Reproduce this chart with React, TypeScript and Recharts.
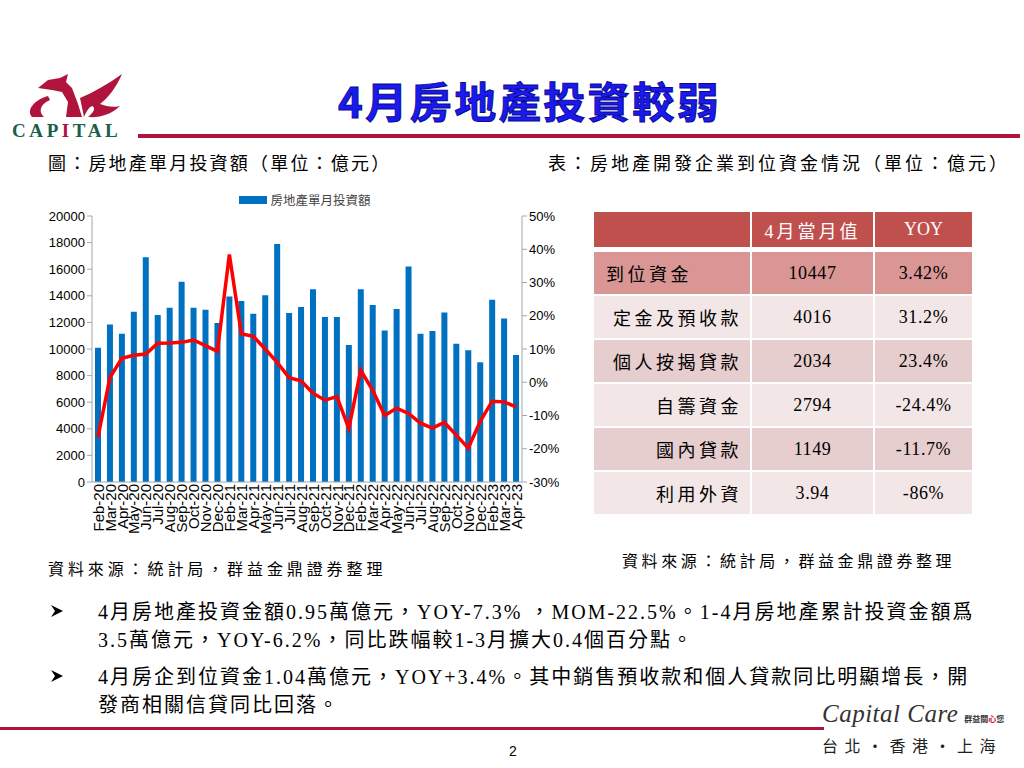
import React from 'react';
import { ComposedChart, Bar, Line, XAxis, YAxis, Legend } from 'recharts';

const months = [
  'Feb-20', 'Mar-20', 'Apr-20', 'May-20', 'Jun-20', 'Jul-20', 'Aug-20', 'Sep-20', 'Oct-20', 'Nov-20', 'Dec-20',
  'Feb-21', 'Mar-21', 'Apr-21', 'May-21', 'Jun-21', 'Jul-21', 'Aug-21', 'Sep-21', 'Oct-21', 'Nov-21', 'Dec-21',
  'Feb-22', 'Mar-22', 'Apr-22', 'May-22', 'Jun-22', 'Jul-22', 'Aug-22', 'Sep-22', 'Oct-22', 'Nov-22', 'Dec-22',
  'Feb-23', 'Mar-23', 'Apr-23',
];

// 房地產單月投資額 (億元)
const investment = [
  10100, 11850, 11150, 12800, 16900, 12550, 13100, 15050, 13100, 12950, 11950,
  13950, 13600, 12650, 14050, 17900, 12700, 13150, 14500, 12400, 12400, 10300,
  14500, 13300, 11400, 13000, 16200, 11150, 11350, 12750, 10400, 9900, 9000,
  13700, 12300, 9550,
];

// 同比 (%)
const yoy = [
  -16.5, 1.4, 7.2, 8.1, 8.5, 11.7, 11.8, 12.0, 12.7, 11.0, 9.3,
  38.4, 14.6, 13.8, 10.0, 6.0, 1.4, 0.4, -3.3, -5.4, -4.3, -13.9,
  3.6, -2.4, -10.0, -7.8, -9.4, -12.3, -13.8, -12.1, -15.9, -19.8, -11.8,
  -5.7, -5.9, -7.4,
];

const leftTicks = [0, 2000, 4000, 6000, 8000, 10000, 12000, 14000, 16000, 18000, 20000];
const rightTicks = [-30, -20, -10, 0, 10, 20, 30, 40, 50];

const tableHeader = ['', '4月當月值', 'YOY'];
const tableLabels = ['到位資金', '定金及預收款', '個人按揭貸款', '自籌資金', '國內貸款', '利用外資'];
const tableValues = ['10447', '4016', '2034', '2794', '1149', '3.94'];
const tableYoy = ['3.42%', '31.2%', '23.4%', '-24.4%', '-11.7%', '-86%'];

const bulletLines = [
  ['4月房地產投資金額0.95萬億元，YOY-7.3% ，MOM-22.5%。1-4月房地產累計投資金額爲', '3.5萬億元，YOY-6.2%，同比跌幅較1-3月擴大0.4個百分點。'],
  ['4月房企到位資金1.04萬億元，YOY+3.4%。其中銷售預收款和個人貸款同比明顯增長，開', '發商相關信貸同比回落。'],
];

const chartData = months.map((m, i) => ({ month: m, amount: investment[i], yoy: yoy[i] }));

const CJK = '"Liberation Serif", "Noto Sans CJK TC", serif';
const SANS = '"Liberation Sans", Arial, sans-serif';
const RED = '#B0143C';

const Text: React.FC<{ x: number; y: number; size: number; spacing?: number; color?: string; family?: string; weight?: number; children: React.ReactNode }> = ({ x, y, size, spacing = 0, color = '#000', family = CJK, weight = 400, children }) => (
  <div
    style={{
      position: 'absolute',
      left: x,
      top: y - size * 0.7,
      fontSize: size,
      lineHeight: `${size * 1.4}px`,
      letterSpacing: spacing,
      color,
      fontFamily: family,
      fontWeight: weight,
      whiteSpace: 'nowrap',
    }}
  >
    {children}
  </div>
);

const LegendContent = () => (
  <div style={{ display: 'flex', alignItems: 'center', justifyContent: 'center', fontFamily: '"Noto Sans CJK TC", sans-serif', fontSize: 12.5, color: '#444' }}>
    <span style={{ display: 'inline-block', width: 28, height: 8, background: '#0070C0', marginRight: 3 }} />
    房地產單月投資額
  </div>
);

const Logo = () => (
  <svg width={130} height={70} style={{ position: 'absolute', left: 8, top: 70 }}>
    {/* bird head and body */}
    <path d="M30 18 L40 10 L52 8 L60 4 L58 12 L64 18 L70 34 L74 47 L58 47 L60 32 L54 22 L44 20 Z" fill="#B0143C" />
    {/* left curl */}
    <path d="M40 26 C26 30 18 40 24 47 L36 47 C30 42 32 34 42 30 Z" fill="#B0143C" />
    {/* wing */}
    <path d="M72 28 C86 22 100 14 114 4 C108 18 100 28 92 34 C98 36 104 38 112 36 C104 44 92 48 80 47 C86 42 88 38 84 36 C80 38 78 42 76 47 Z" fill="#B0143C" />
    <text x={4} y={67} fontFamily="Liberation Serif" fontWeight={700} fontSize={19} letterSpacing={3.6} fill="#1B5E4B">
      CAP<tspan fill="#B0143C">I</tspan>TAL
    </text>
  </svg>
);

const Arrow: React.FC<{ x: number; y: number }> = ({ x, y }) => (
  <svg width={14} height={14} style={{ position: 'absolute', left: x, top: y - 7 }}>
    <path d="M1 1 L13 7 L1 13 L5 7 Z" fill="#000" />
  </svg>
);

export default function App() {
  return (
    <div style={{ position: 'absolute', left: 0, top: 0, width: 1024, height: 768, background: '#fff', overflow: 'hidden' }}>
      <Logo />
      <div
        style={{
          position: 'absolute',
          left: 338,
          top: 74,
          fontSize: 42,
          lineHeight: '52px',
          letterSpacing: 2.5,
          color: '#1A1AF0',
          fontFamily: '"Noto Sans CJK TC", sans-serif',
          fontWeight: 700,
          WebkitTextStroke: '1px #0A0A90',
          whiteSpace: 'nowrap',
        }}
      >
        4月房地產投資較弱
      </div>
      <div style={{ position: 'absolute', left: 138, top: 134, width: 882, height: 4, background: RED }} />

      <Text x={48} y={165} size={18} spacing={2.2}>圖：房地產單月投資額（單位：億元）</Text>
      <Text x={548} y={165} size={18} spacing={3}>表：房地產開發企業到位資金情況（單位：億元）</Text>

      <div style={{ position: 'absolute', left: 40, top: 190 }}>
        <ComposedChart width={530} height={350} data={chartData} margin={{ top: 0, right: 0, bottom: 0, left: 0 }}>
          <Legend verticalAlign="top" height={26} content={LegendContent} />
          <XAxis
            dataKey="month"
            interval={0}
            angle={-90}
            textAnchor="end"
            height={58}
            tickLine={false}
            axisLine={{ stroke: '#A6A6A6' }}
            tick={{ fontSize: 15, fill: '#000', fontFamily: SANS, dx: -5, dy: -6 }}
          />
          <YAxis
            yAxisId="left"
            domain={[0, 20000]}
            ticks={leftTicks}
            width={52}
            interval={0}
            axisLine={{ stroke: '#A6A6A6' }}
            tickLine={{ stroke: '#A6A6A6' }}
            tickSize={5}
            tick={{ fontSize: 13, fill: '#000', fontFamily: SANS }}
          />
          <YAxis
            yAxisId="right"
            orientation="right"
            domain={[-30, 50]}
            ticks={rightTicks}
            width={48}
            interval={0}
            axisLine={{ stroke: '#A6A6A6' }}
            tickLine={{ stroke: '#A6A6A6' }}
            tickSize={5}
            tickFormatter={(v: number) => `${v}%`}
            tick={{ fontSize: 13, fill: '#000', fontFamily: SANS }}
          />
          <Bar yAxisId="left" dataKey="amount" fill="#0070C0" barSize={6} isAnimationActive={false} />
          <Line yAxisId="right" dataKey="yoy" stroke="#FF0000" strokeWidth={3.5} dot={false} legendType="none" isAnimationActive={false} />
        </ComposedChart>
      </div>

      <div
        style={{
          position: 'absolute',
          left: 594,
          top: 212,
          display: 'grid',
          gridTemplateColumns: '156px 121px 97px',
          gridTemplateRows: '35px 1px repeat(6, 42px)',
          columnGap: 2,
          rowGap: 2,
          fontFamily: CJK,
          fontSize: 18,
        }}
      >
        {tableHeader.map((h, i) => (
          <div key={`h${i}`} style={{ background: '#C0504D', color: '#fff', display: 'flex', alignItems: 'center', justifyContent: 'center', letterSpacing: i === 1 ? 3 : 0 }}>
            {h}
          </div>
        ))}
        <div style={{ gridColumn: '1 / span 3' }} />
        {tableLabels.map((label, r) => {
          const bg = r === 0 ? '#D99694' : r % 2 === 1 ? '#F2E6E6' : '#E6CDCE';
          return (
            <React.Fragment key={label}>
              <div style={{ background: bg, display: 'flex', alignItems: 'center', justifyContent: r === 0 ? 'flex-start' : 'flex-end', padding: r === 0 ? '0 0 0 12px' : '0 8px 0 0', letterSpacing: 3.5 }}>
                {label}
              </div>
              <div style={{ background: bg, display: 'flex', alignItems: 'center', justifyContent: 'center', letterSpacing: 0.6 }}>{tableValues[r]}</div>
              <div style={{ background: bg, display: 'flex', alignItems: 'center', justifyContent: 'center', letterSpacing: 0.6 }}>{tableYoy[r]}</div>
            </React.Fragment>
          );
        })}
      </div>

      <Text x={48} y={570} size={16} spacing={3.9}>資料來源：統計局，群益金鼎證券整理</Text>
      <Text x={622} y={562} size={16} spacing={3.6}>資料來源：統計局，群益金鼎證券整理</Text>

      {bulletLines.map((lines, b) => (
        <React.Fragment key={b}>
          <Arrow x={50} y={b === 0 ? 611 : 676} />
          <Text x={98} y={b === 0 ? 612 : 677} size={20} spacing={2}>{lines[0]}</Text>
          <Text x={98} y={b === 0 ? 640 : 705} size={20} spacing={2}>{lines[1]}</Text>
        </React.Fragment>
      ))}

      <div style={{ position: 'absolute', left: 0, top: 727, width: 824, height: 3, background: RED }} />
      <div style={{ position: 'absolute', left: 822, top: 700, whiteSpace: 'nowrap', display: 'flex', alignItems: 'baseline' }}>
        <span style={{ fontFamily: '"Liberation Serif", serif', fontStyle: 'italic', fontSize: 25, color: '#333', letterSpacing: 0.5 }}>Capital Care</span>
        <span style={{ fontFamily: '"Noto Sans CJK TC", sans-serif', fontSize: 8, color: '#333', marginLeft: 6, fontWeight: 700 }}>
          群益關<span style={{ color: '#E00020' }}>心</span>您
        </span>
      </div>
      <Text x={822} y={745} size={16} spacing={6.5} family='"Noto Sans CJK TC", sans-serif' color="#222">台北·香港·上海</Text>
      <Text x={509} y={752} size={14} family={SANS}>2</Text>
    </div>
  );
}
